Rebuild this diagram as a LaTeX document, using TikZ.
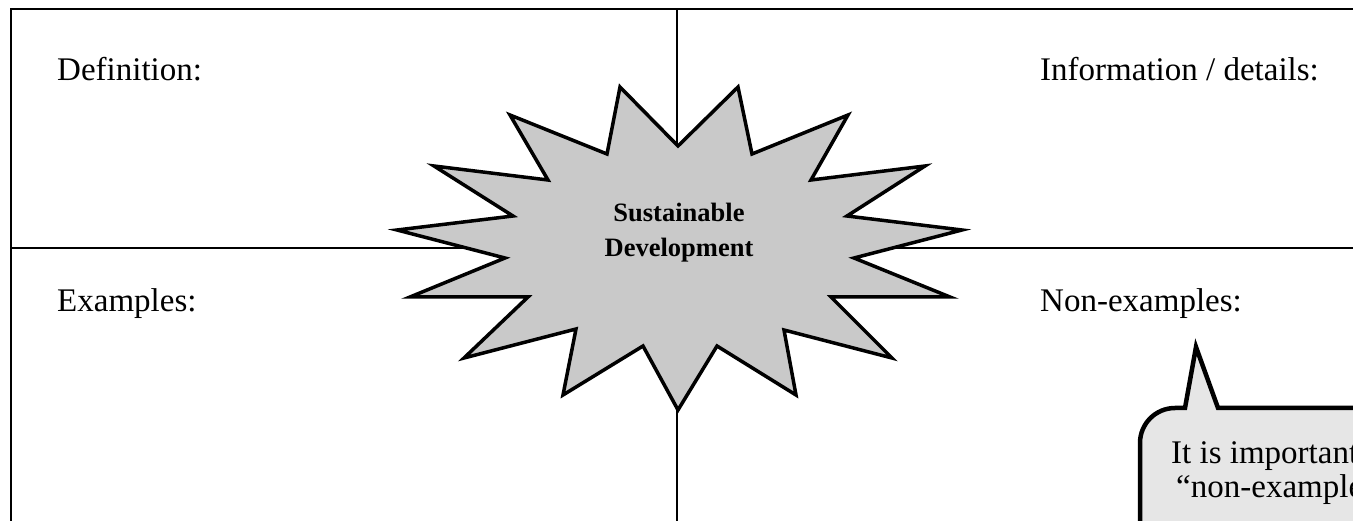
\documentclass[tikz,border=0pt]{standalone}
\usepackage{fontspec}
\setmainfont{Liberation Serif}
\definecolor{burstgray}{HTML}{C9C9C9}
\definecolor{bubblegray}{HTML}{E6E6E6}
\begin{document}
\begin{tikzpicture}[x=1pt,y=-1pt,
  gridline/.style={line width=2.2pt,black},
  label/.style={anchor=base west,inner sep=0pt,font=\fontsize{33}{40}\selectfont},
  burst/.style={fill=burstgray,draw=black,line width=3.5pt,line join=miter},
  bubble/.style={fill=bubblegray,draw=black,line width=4.5pt,line join=miter}]
\useasboundingbox (0,0) rectangle (1353,521);
\clip (0,0) rectangle (1353,521);
% frame and grid
\coordinate (tl) at (11,9);
\coordinate (tr) at (1360,9);
\coordinate (bl) at (11,530);
\coordinate (ml) at (11,248);
\coordinate (mr) at (1360,248);
\coordinate (vt) at (677,9);
\coordinate (vb) at (677,530);
\draw[gridline,line width=2.6pt] (tr) -- (tl) -- (bl);
\draw[gridline] (ml) -- (mr);
\draw[gridline,line width=2pt] (vt) -- (vb);
% labels
\node[label] (def) at (57,81) {Definition:};
\node[label] (info) at (1040,81) {Information / details:};
\node[label] (ex) at (57,312) {Examples:};
\node[label] (nonex) at (1040,312) {Non-examples:};
% starburst
\filldraw[burst] (620,87) -- (678,146) -- (738,87) -- (752,154) -- (848,115) -- (811,180)
  -- (925,166) -- (847,216) -- (962,230) -- (854,258) -- (950,297) -- (831,297)
  -- (892,358) -- (784,330) -- (796,395) -- (717,346) -- (678,410) -- (643,346)
  -- (563,395) -- (576,329) -- (464,358) -- (528,297) -- (410,297) -- (505,258)
  -- (397,230) -- (513,216) -- (434,166) -- (548,180) -- (510,115) -- (607,154) -- cycle;
\node[inner sep=0pt,anchor=base,font=\fontsize{26.5}{35}\selectfont\bfseries] (sd1) at (679,222) {Sustainable};
\node[inner sep=0pt,anchor=base,font=\fontsize{26.5}{35}\selectfont\bfseries] (sd2) at (679,257) {Development};
% callout bubble
\filldraw[bubble] (1140,540) -- (1140,443) arc[start angle=180,end angle=270,radius=35]
  -- (1185,408) -- (1196,347) -- (1218,408) -- (1370,408) -- (1370,540) -- cycle;
\node[label] (b1) at (1171,464) {It is important to};
\node[label] (b2) at (1176,497) {“non-examples”};
\end{tikzpicture}
\end{document}
